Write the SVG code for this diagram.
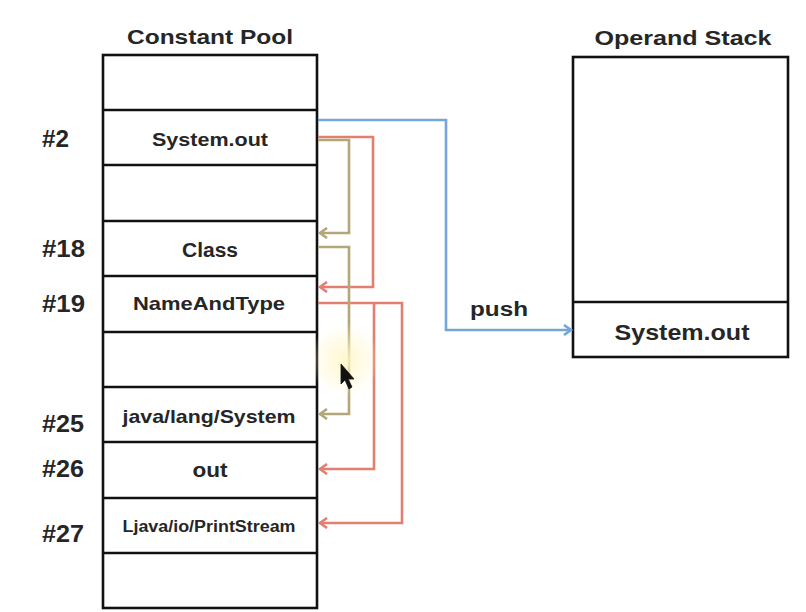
<svg xmlns="http://www.w3.org/2000/svg" width="806" height="612" viewBox="0 0 806 612">
<style>
.t{font-family:"Liberation Sans",Arial,sans-serif;font-weight:bold;fill:#262626}
.lbl{font-size:23px}
.box{fill:#fff;stroke:#111;stroke-width:2.6}
.div{stroke:#111;stroke-width:2.6}
.c{fill:none;stroke-width:2.6;stroke-linejoin:miter}
.blue{stroke:#74a6d9}
.olive{stroke:#b3a77a}
.red{stroke:#e27f70}
</style>
<defs>
<marker id="ab" markerWidth="12" markerHeight="12" refX="9" refY="6" orient="auto" markerUnits="userSpaceOnUse"><path d="M2,1 L9,6 L2,11" fill="none" stroke="#74a6d9" stroke-width="2.6"/></marker>
<marker id="ao" markerWidth="12" markerHeight="12" refX="9" refY="6" orient="auto" markerUnits="userSpaceOnUse"><path d="M2,1 L9,6 L2,11" fill="none" stroke="#b3a77a" stroke-width="2.6"/></marker>
<marker id="ar" markerWidth="12" markerHeight="12" refX="9" refY="6" orient="auto" markerUnits="userSpaceOnUse"><path d="M2,1 L9,6 L2,11" fill="none" stroke="#e27f70" stroke-width="2.6"/></marker>
<radialGradient id="glow"><stop offset="0" stop-color="#fff7c8" stop-opacity="0.9"/><stop offset="1" stop-color="#fff7c8" stop-opacity="0"/></radialGradient>
</defs>

<g id="titles">
<text class="t" x="210" y="44" font-size="21" text-anchor="middle" textLength="166" lengthAdjust="spacingAndGlyphs">Constant Pool</text>
<text class="t" x="683" y="45" font-size="21" text-anchor="middle" textLength="177" lengthAdjust="spacingAndGlyphs">Operand Stack</text>
</g>

<g id="constant-pool">
<rect class="box" x="103" y="55" width="214" height="553"/>
<line class="div" x1="103" y1="110" x2="317" y2="110"/>
<line class="div" x1="103" y1="165" x2="317" y2="165"/>
<line class="div" x1="103" y1="221" x2="317" y2="221"/>
<line class="div" x1="103" y1="276" x2="317" y2="276"/>
<line class="div" x1="103" y1="332" x2="317" y2="332"/>
<line class="div" x1="103" y1="387" x2="317" y2="387"/>
<line class="div" x1="103" y1="442" x2="317" y2="442"/>
<line class="div" x1="103" y1="498" x2="317" y2="498"/>
<line class="div" x1="103" y1="553" x2="317" y2="553"/>
</g>

<g id="entry-2"><text class="t lbl" x="42" y="147" textLength="27" lengthAdjust="spacingAndGlyphs">#2</text><text class="t" x="210" y="146" font-size="19" text-anchor="middle" textLength="116" lengthAdjust="spacingAndGlyphs">System.out</text></g>
<g id="entry-18"><text class="t lbl" x="42" y="257" textLength="43" lengthAdjust="spacingAndGlyphs">#18</text><text class="t" x="210" y="257" font-size="20" text-anchor="middle" textLength="56" lengthAdjust="spacingAndGlyphs">Class</text></g>
<g id="entry-19"><text class="t lbl" x="42" y="312" textLength="43" lengthAdjust="spacingAndGlyphs">#19</text><text class="t" x="209" y="310" font-size="19" text-anchor="middle" textLength="152" lengthAdjust="spacingAndGlyphs">NameAndType</text></g>
<g id="entry-25"><text class="t lbl" x="42" y="432" textLength="42" lengthAdjust="spacingAndGlyphs">#25</text><text class="t" x="209" y="423" font-size="19" text-anchor="middle" textLength="173" lengthAdjust="spacingAndGlyphs">java/lang/System</text></g>
<g id="entry-26"><text class="t lbl" x="42" y="477" textLength="42" lengthAdjust="spacingAndGlyphs">#26</text><text class="t" x="210" y="477" font-size="20" text-anchor="middle" textLength="35" lengthAdjust="spacingAndGlyphs">out</text></g>
<g id="entry-27"><text class="t lbl" x="42" y="542" textLength="42" lengthAdjust="spacingAndGlyphs">#27</text><text class="t" x="209" y="532" font-size="16" text-anchor="middle" textLength="173" lengthAdjust="spacingAndGlyphs">Ljava/io/PrintStream</text></g>

<g id="operand-stack">
<rect class="box" x="573" y="57" width="215" height="300"/>
<line class="div" x1="573" y1="302" x2="788" y2="302"/>
<text class="t" x="682" y="340" font-size="22" text-anchor="middle" textLength="135" lengthAdjust="spacingAndGlyphs">System.out</text>
</g>

<g id="connectors">
<path class="c blue" d="M318,120 H446 V330 H571" marker-end="url(#ab)"/>
<text class="t" x="470" y="316" font-size="20" textLength="58" lengthAdjust="spacingAndGlyphs">push</text>
<path class="c red" d="M318,137 H373 V287 H320" marker-end="url(#ar)"/>
<path class="c olive" d="M318,140 H349 V233 H320" marker-end="url(#ao)"/>
<path class="c red" d="M318,303 H402 V523 H320" marker-end="url(#ar)"/>
<path class="c red" d="M374,303 V469 H320" marker-end="url(#ar)"/>
<path class="c olive" d="M318,247 H349 V414 H320" marker-end="url(#ao)"/>
</g>

<g id="cursor">
<circle cx="345" cy="360" r="36" fill="url(#glow)"/>
<path d="M341,364 L341,384 L345,380 L349,389 L352,387 L348,379 L354,379 Z" fill="#111" stroke="#111" stroke-width="0.8"/>
</g>
</svg>
